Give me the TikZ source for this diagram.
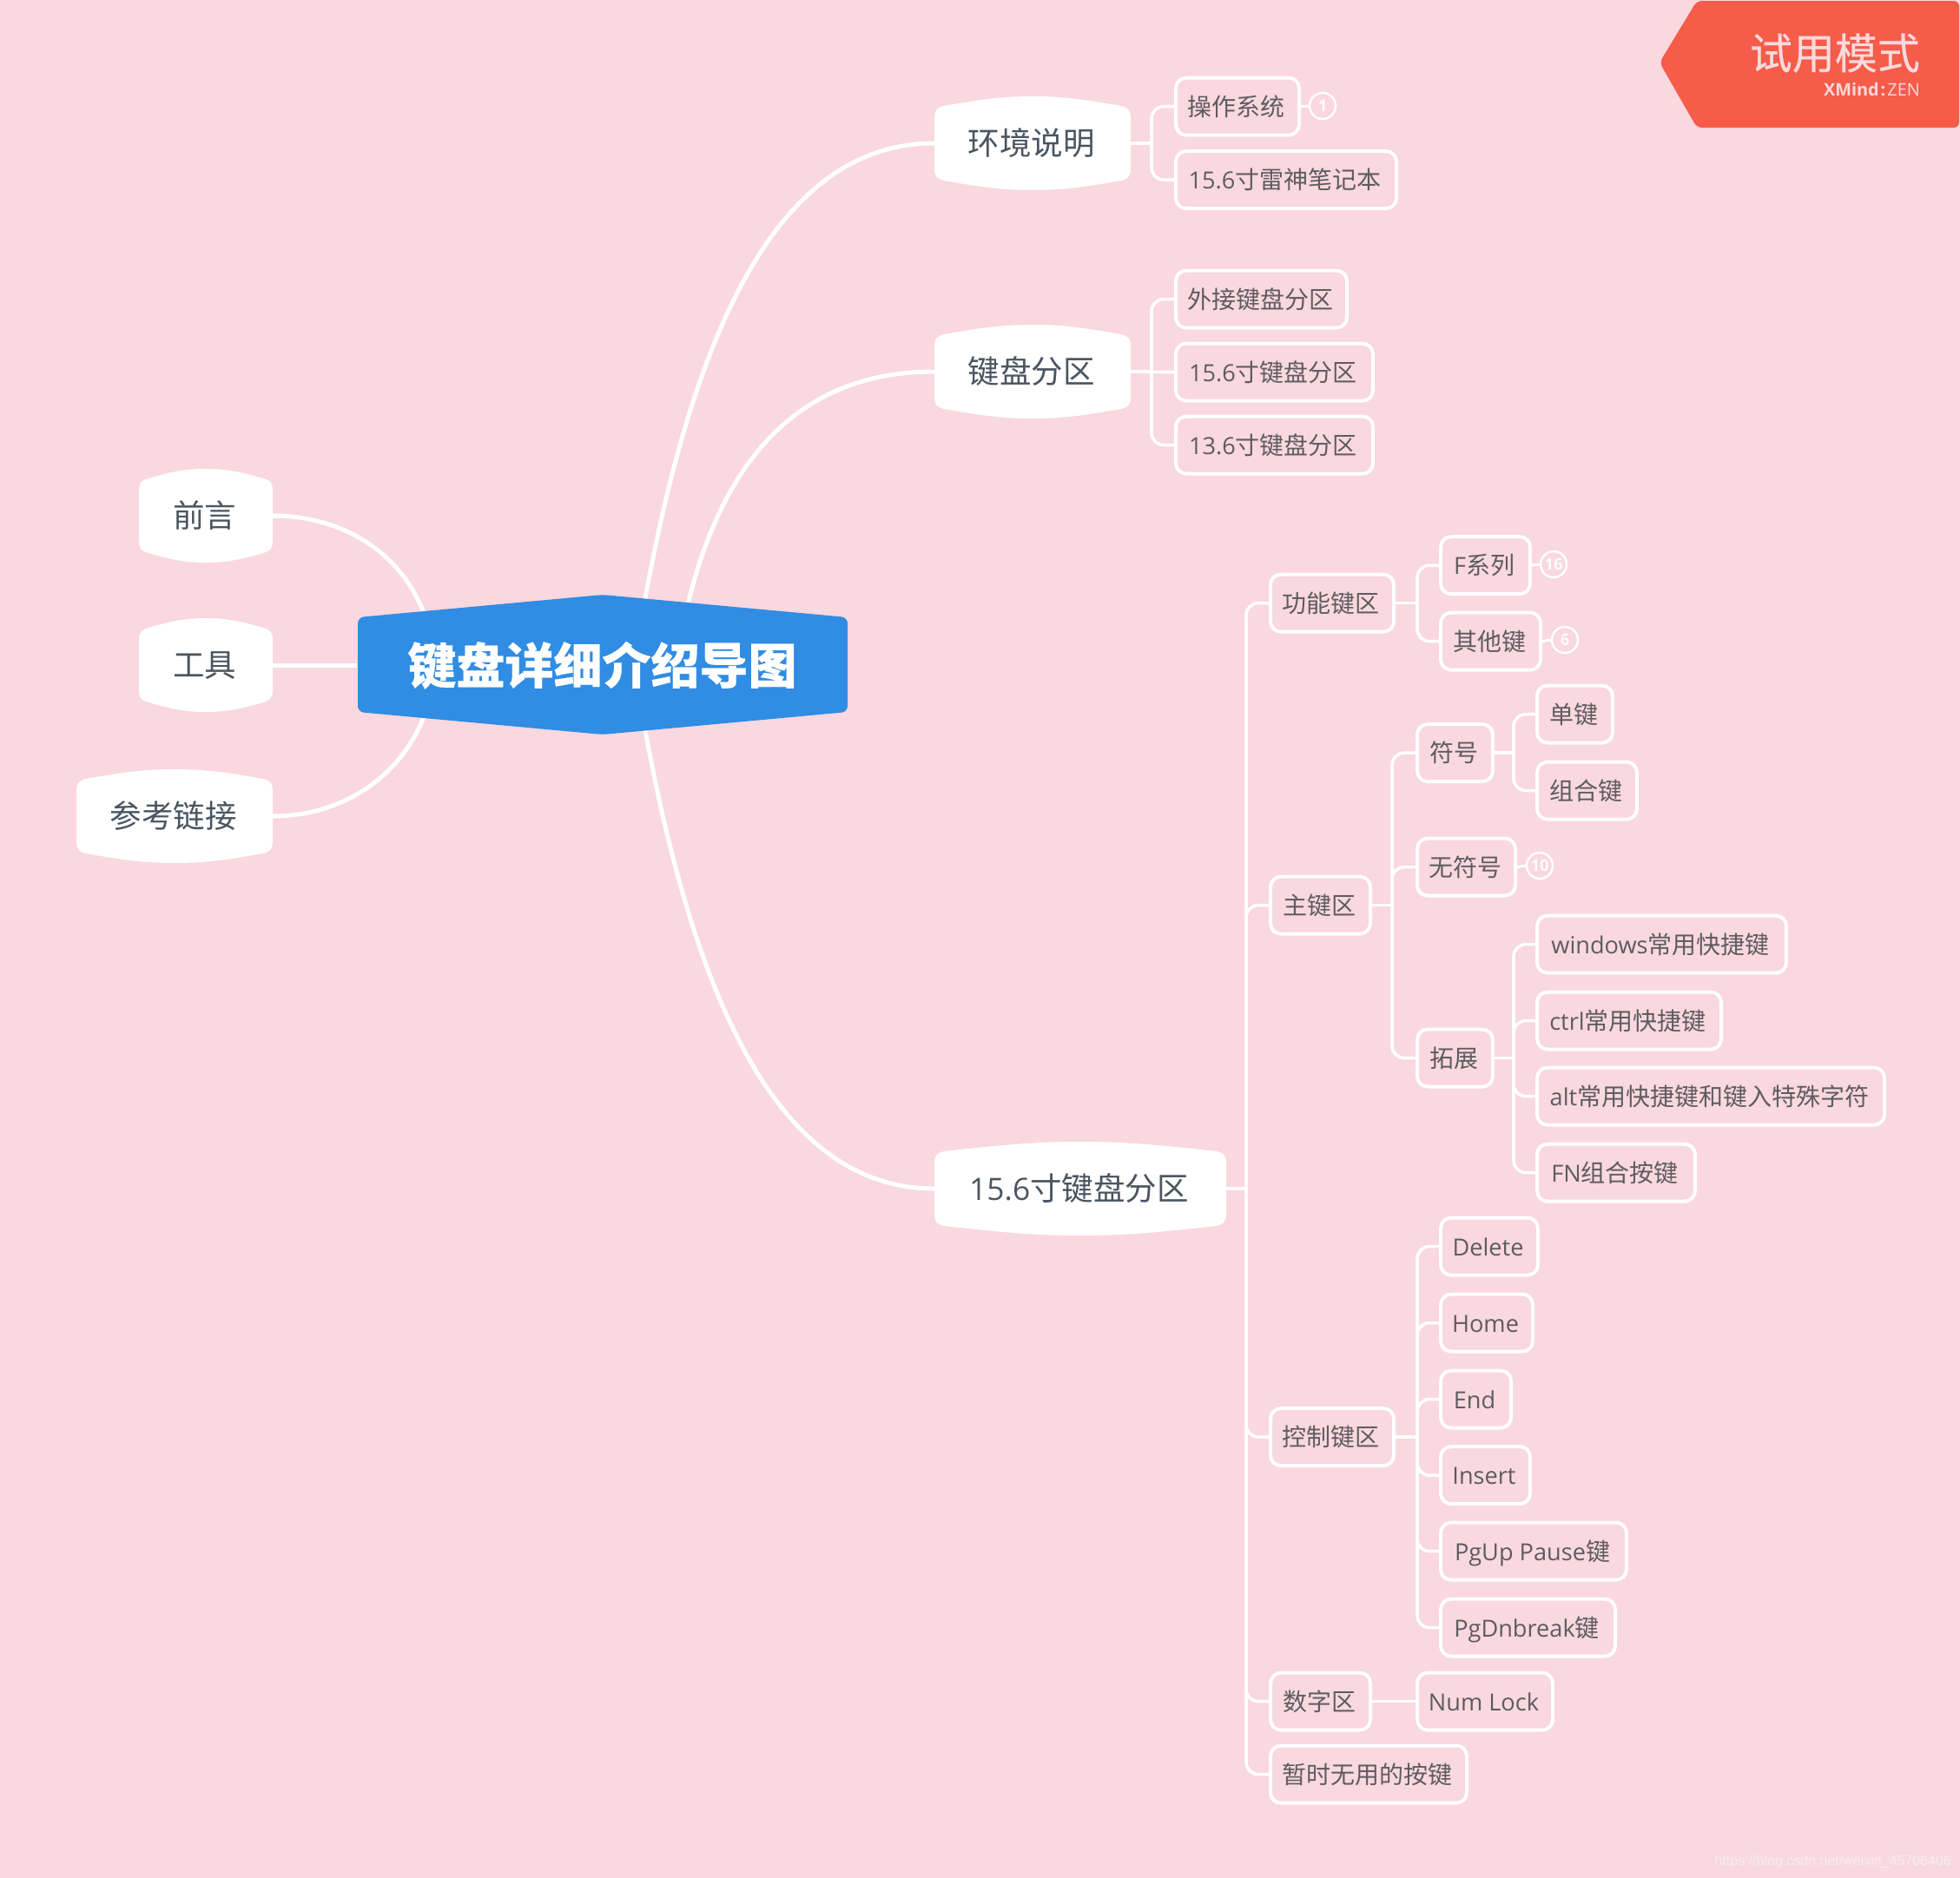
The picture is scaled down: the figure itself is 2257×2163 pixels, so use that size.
\documentclass[tikz,border=0pt]{standalone}
\usepackage{fontspec}
\setmainfont{Noto Sans CJK SC}
\newfontfamily\latf[Scale=0.97]{Open Sans}
\newfontfamily\urlf{Liberation Sans}
\newcommand{\ltn}[1]{{\latf #1}}
\usetikzlibrary{backgrounds}
\definecolor{bgpink}{HTML}{F9D8DF}
\definecolor{hubblue}{HTML}{318CE3}
\definecolor{badgered}{HTML}{F65C4A}
\definecolor{badgetxt}{HTML}{FBD9DC}
\definecolor{topictxt}{HTML}{4A5560}
\definecolor{subtxt}{HTML}{5E5C60}
\definecolor{urlc}{HTML}{F6EDF0}
\tikzset{
  conn/.style={draw=white,line width=3.6pt},
  curveconn/.style={draw=white,line width=5pt},
  lvl/.style={draw=white,line width=4pt,rounded corners=12pt,minimum height=66pt,inner sep=0pt,
    text=subtxt,font=\fontsize{28}{28}\selectfont,text height=21pt,text depth=0pt},
  topic/.style={inner sep=0pt,minimum height=108pt,text=topictxt,font=\fontsize{36.5}{36.5}\selectfont,text height=27pt,text depth=0pt},
  numc/.style={circle,draw=white,line width=2.5pt,minimum size=30pt,inner sep=0pt,text=white!90!bgpink,
    font=\latf\bfseries\fontsize{19}{19}\selectfont},
}
\newcommand{\lvbox}[5]{%
  \pgfmathsetmacro\cxx{(#2+#3)/2}\pgfmathsetmacro\www{#3-#2-2}\pgfmathsetmacro\cyy{#4+0.6}%
  \node[lvl,minimum width=\www pt] (#1) at (\cxx,\cyy) {\hspace*{-3pt}#5};}
\newcommand{\hexnode}[5]{%
  \pgfmathsetmacro\cxx{(#2+#3)/2}\pgfmathsetmacro\www{#3-#2}%
  \pgfmathsetmacro\tp{#4-54}\pgfmathsetmacro\bt{#4+54}%
  \pgfmathsetmacro\cla{#2+.25*\www}\pgfmathsetmacro\clb{\cxx-.15*\www}%
  \pgfmathsetmacro\cra{#3-.25*\www}\pgfmathsetmacro\crb{\cxx+.15*\www}%
  \fill[white] (#2,#4-29) .. controls (#2,#4-38) and (#2+3,#4-41) .. (#2+11,#4-43)
    .. controls (\cla,\tp+3) and (\clb,\tp) .. (\cxx,\tp)
    .. controls (\crb,\tp) and (\cra,\tp+3) .. (#3-11,#4-43)
    .. controls (#3-3,#4-41) and (#3,#4-38) .. (#3,#4-29)
    -- (#3,#4+29) .. controls (#3,#4+38) and (#3-3,#4+41) .. (#3-11,#4+43)
    .. controls (\cra,\bt-3) and (\crb,\bt) .. (\cxx,\bt)
    .. controls (\clb,\bt) and (\cla,\bt-3) .. (#2+11,#4+43)
    .. controls (#2+3,#4+41) and (#2,#4+38) .. (#2,#4+29) -- cycle;
  \node[topic,minimum width=\www pt] (#1) at (\cxx,#4) {\hspace*{-3pt}#5};}
\newcommand{\brk}[3]{%
  \coordinate (bx#1) at (#2,0);
  \draw[conn] (#1.east) -- (#1.east -| bx#1);
  \foreach \kid in {#3} {
    \draw[conn,rounded corners=14pt] (\kid.west) -- (\kid.west -| bx#1) -- (#1.east -| bx#1);
  }}
\begin{document}
\begin{tikzpicture}[x=1pt,y=-1pt]
\useasboundingbox (0,0) rectangle (2257,2163);
\begin{scope}[on background layer]
\fill[bgpink] (0,0) rectangle (2257,2163);
\end{scope}

% central topic
\fill[hubblue,rounded corners=7pt] (412,711) -- (694,685) -- (976,711) -- (976,820) -- (694,846) -- (412,820) -- cycle;
\node[inner sep=0pt,minimum width=564pt,minimum height=109pt,text=white,
  font=\fontsize{56}{56}\selectfont\bfseries\addfontfeature{FakeBold=0.4},text height=43pt,text depth=0pt] (hub) at (693.5,766) {键盘详细介绍导图};

% left topics
\hexnode{qy}{160}{314}{594}{前言}
\hexnode{gj}{160}{314}{766}{工具}
\hexnode{ck}{88}{314}{940}{参考链接}

% right topics
\hexnode{env}{1076}{1302}{165}{环境说明}
\hexnode{kb}{1076}{1302}{428}{键盘分区}
\hexnode{mk}{1076}{1412}{1369}{\ltn{15.6}寸键盘分区}

% curved connectors
\coordinate (ha) at (491,715);
\coordinate (hb) at (491,817);
\coordinate (hc) at (741,700);
\coordinate (hd) at (790,705);
\coordinate (he) at (741,830);
\begin{scope}[on background layer]
\draw[curveconn] (qy.east) .. controls (400,594) and (468,642) .. (ha);
\draw[curveconn] (gj.east) -- (hub.west);
\draw[curveconn] (ck.east) .. controls (400,940) and (468,888) .. (hb);
\draw[curveconn] (env.west) .. controls (900,165) and (800,370) .. (hc);
\draw[curveconn] (kb.west) .. controls (920,428) and (830,530) .. (hd);
\draw[curveconn] (mk.west) .. controls (900,1369) and (800,1160) .. (he);
\end{scope}

% env
\lvbox{os}{1353}{1497}{122}{操作系统}
\lvbox{lp}{1353}{1609}{206.5}{\ltn{15.6}寸雷神笔记本}
\node[numc] (m1) at (1523,122) {1};
\draw[conn,line width=3pt] (os.east) -- (m1.west);
\brk{env}{1326}{os,lp}

% keyboard zones
\lvbox{ka}{1353}{1552}{344}{外接键盘分区}
\lvbox{kc}{1353}{1582}{428}{\ltn{15.6}寸键盘分区}
\lvbox{kd}{1353}{1582}{512}{\ltn{13.6}寸键盘分区}
\brk{kb}{1326}{ka,kd}
\draw[conn] (kb.east) -- (kc.west);

% 15.6 zones
\lvbox{fn}{1462}{1606}{694}{功能键区}
\lvbox{fx}{1658}{1763}{650.5}{\ltn{F}系列}
\lvbox{ot}{1658}{1775}{738}{其他键}
\node[numc] (m16) at (1789,650) {16};
\node[numc] (m6) at (1802,737) {6};
\draw[conn,line width=3pt] (fx.east) -- (m16.west);
\draw[conn,line width=3pt] (ot.east) -- (m6.west);
\brk{fn}{1632}{fx,ot}

\lvbox{zj}{1462}{1579}{1042}{主键区}
\lvbox{sy}{1631}{1720}{866.5}{符号}
\lvbox{dj}{1769}{1858}{822}{单键}
\lvbox{zh}{1769}{1886}{910}{组合键}
\lvbox{ns}{1631}{1746}{998}{无符号}
\node[numc] (m10) at (1773,997) {10};
\draw[conn,line width=3pt] (ns.east) -- (m10.west);
\lvbox{tz}{1631}{1720}{1218}{拓展}
\lvbox{win}{1769}{2058}{1087}{\ltn{windows}常用快捷键}
\lvbox{ctr}{1769}{1983}{1175}{\ltn{ctrl}常用快捷键}
\lvbox{alt}{1769}{2171}{1262}{\ltn{alt}常用快捷键和键入特殊字符}
\lvbox{fnk}{1769}{1953}{1350}{\ltn{FN}组合按键}
\brk{sy}{1743}{dj,zh}
\brk{tz}{1743}{win,ctr,alt,fnk}
\brk{zj}{1603}{sy,ns,tz}

\lvbox{kz}{1462}{1606}{1654.5}{控制键区}
\lvbox{del}{1658}{1772}{1435}{\ltn{Delete}}
\lvbox{hom}{1658}{1766}{1523}{\ltn{Home}}
\lvbox{enk}{1658}{1741}{1611}{\ltn{End}}
\lvbox{ins}{1658}{1763}{1698.5}{\ltn{Insert}}
\lvbox{pup}{1658}{1874}{1786}{\ltn{PgUp Pause}键}
\lvbox{pdn}{1658}{1861}{1874}{\ltn{PgDnbreak}键}
\brk{kz}{1632}{del,hom,enk,ins,pup,pdn}

\lvbox{sz}{1462}{1579}{1959}{数字区}
\lvbox{nl}{1631}{1789}{1959}{\ltn{Num Lock}}
\draw[conn] (sz.east) -- (nl.west);
\lvbox{zs}{1462}{1690}{2043}{暂时无用的按键}
\brk{mk}{1435}{fn,zj,kz,sz,zs}

% trial badge
\fill[badgered,rounded corners=6pt] (1911,72) -- (1954,1) -- (2256,1) -- (2256,147) -- (1954,147) -- cycle;
\node[anchor=east,inner sep=0pt,text=badgetxt,font=\fontsize{49}{49}\selectfont\addfontfeature{FakeBold=0.3}] (trial) at (2211,61) {试用模式};
\node[anchor=east,inner sep=0pt,text=badgetxt,font=\latf\fontsize{20.5}{20.5}\selectfont] (brand) at (2211,103) {\textbf{XMind}\hspace{2pt}\textbf{:}\hspace{2pt}ZEN};

% url watermark
\node[anchor=east,inner sep=0pt,text=urlc,font=\urlf\fontsize{16}{16}\selectfont] (url) at (2247,2144) {https://blog.csdn.net/weixin\_45706406};
\end{tikzpicture}
\end{document}
